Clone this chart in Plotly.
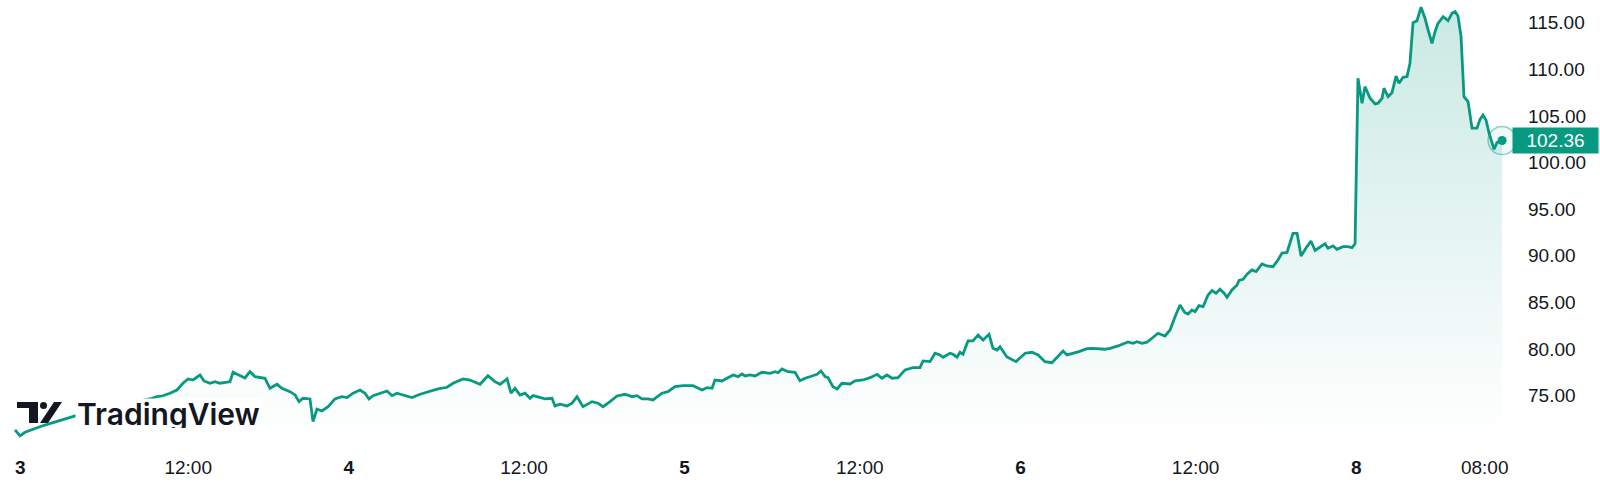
import plotly.graph_objects as go

# hours since session start of day 3 (23h trading sessions, weekend gap removed)
times = [0.14, 0.48, 0.82, 1.37, 1.99, 2.74, 3.36, 3.70, 4.11, 5.62, 6.99, 8.36, 9.52, 9.86, 10.27, 10.75, 11.23, 11.64, 11.99, 12.33,
         12.81, 13.08, 13.49, 13.84, 14.18, 14.66, 14.86, 15.07, 15.55, 15.89, 16.23, 16.58, 17.26, 17.60, 18.08, 18.42, 18.97, 19.32, 19.59, 19.86,
         20.34, 20.55, 20.82, 21.16, 21.58, 22.05, 22.53, 22.88, 23.29, 23.77, 24.11, 24.38, 24.66, 25.14, 25.62, 25.96, 26.30, 26.71, 27.33, 27.88,
         28.56, 29.11, 29.73, 30.14, 30.82, 31.30, 31.99, 32.53, 33.01, 33.36, 33.84, 34.11, 34.38, 34.73, 35.07, 35.41, 35.62, 36.10, 36.44, 36.92,
         37.12, 37.47, 37.95, 38.29, 38.63, 39.04, 39.66, 40.07, 40.41, 40.89, 41.37, 41.92, 42.40, 42.74, 43.08, 43.49, 43.84, 44.45, 44.86, 45.34,
         45.89, 46.58, 47.19, 47.53, 47.88, 48.08, 48.56, 48.90, 49.32, 49.66, 49.93, 50.14, 50.48, 50.82, 51.30, 51.85, 52.19, 52.40, 52.67, 53.08,
         53.56, 53.90, 54.25, 54.73, 55.07, 55.34, 55.62, 55.82, 56.16, 56.44, 56.78, 57.33, 57.67, 58.22, 58.70, 59.18, 59.52, 59.86, 60.21, 60.62,
         61.10, 61.64, 62.12, 62.33, 62.81, 63.15, 63.49, 63.70, 64.18, 64.38, 64.66, 64.86, 65.07, 65.41, 65.75, 66.10, 66.44, 66.85, 67.12, 67.40,
         67.60, 68.08, 68.70, 69.32, 69.79, 70.21, 70.68, 71.16, 71.58, 71.92, 72.19, 73.01, 73.56, 73.97, 74.79, 75.14, 75.68, 76.37, 76.71, 76.99,
         77.33, 77.67, 78.01, 78.42, 78.90, 79.25, 79.59, 79.93, 80.27, 80.48, 80.75, 80.96, 81.23, 81.51, 81.85, 82.12, 82.40, 82.67, 82.95, 83.15,
         83.49, 83.84, 83.97, 84.25, 84.52, 84.86, 85.14, 85.55, 85.89, 86.30, 86.64, 86.92, 87.26, 87.67, 87.95, 88.22, 88.56, 88.90, 89.18, 89.52,
         89.86, 90.07, 90.41, 90.68, 91.10, 91.44, 91.71, 91.92, 92.12, 92.40, 92.60, 92.95, 93.29, 93.49, 93.77, 93.90, 94.18, 94.45, 94.73, 94.93,
         95.21, 95.48, 95.68, 95.89, 96.16, 96.44, 96.71, 96.92, 97.19, 97.40, 97.60, 97.95, 98.29, 98.56, 98.77, 98.97, 99.18, 99.38, 99.66, 99.93,
         100.27, 100.48, 100.68, 100.89, 101.10, 101.44, 101.64, 101.99]

prices = [71.32, 70.68, 71.07, 71.43, 71.75, 72.10, 72.39, 72.50, 72.68, 73.47, 73.90, 74.32, 74.72, 74.89, 74.99, 75.26, 75.61, 76.33, 76.79, 76.68,
          77.22, 76.58, 76.33, 76.50, 76.33, 76.44, 76.50, 77.51, 77.14, 76.90, 77.57, 77.04, 76.86, 75.79, 76.22, 75.79, 75.43, 75.08, 74.36, 74.72,
          74.65, 72.21, 73.57, 73.36, 73.82, 74.65, 74.89, 74.79, 75.26, 75.61, 75.26, 74.65, 75.00, 75.26, 75.50, 75.00, 75.26, 75.07, 74.79, 75.15,
          75.50, 75.72, 75.90, 76.33, 76.79, 76.68, 76.22, 77.14, 76.50, 76.22, 76.79, 75.26, 75.79, 75.07, 75.26, 74.72, 75.00, 74.78, 74.65, 74.72,
          73.90, 74.08, 73.90, 74.19, 74.89, 73.82, 74.36, 74.19, 73.82, 74.36, 74.97, 75.15, 74.89, 75.00, 74.65, 74.65, 74.54, 75.26, 75.43, 75.96,
          76.07, 76.07, 75.61, 75.86, 75.79, 76.68, 76.58, 76.87, 77.22, 77.04, 77.33, 77.11, 77.22, 77.11, 77.51, 77.40, 77.57, 77.46, 77.86, 77.57,
          77.51, 76.61, 76.87, 77.11, 77.29, 77.65, 77.04, 76.93, 75.96, 75.72, 76.33, 76.25, 76.58, 76.68, 76.93, 77.29, 76.87, 77.22, 76.87, 76.93,
          77.76, 78.00, 78.00, 78.72, 78.65, 79.55, 79.37, 79.12, 79.55, 79.44, 79.12, 79.65, 79.44, 80.87, 80.87, 81.51, 80.97, 81.58, 80.08, 79.90,
          80.25, 79.15, 78.65, 79.55, 79.65, 79.37, 78.65, 78.54, 79.18, 79.79, 79.37, 79.72, 80.04, 80.08, 79.98, 80.08, 80.33, 80.76, 80.62, 80.79,
          80.62, 80.73, 81.16, 81.69, 81.40, 82.04, 83.47, 84.73, 83.90, 83.76, 84.19, 84.01, 84.65, 84.54, 85.80, 86.26, 85.98, 86.41, 85.98, 85.55,
          86.33, 86.87, 87.35, 87.48, 88.02, 88.48, 88.30, 89.12, 88.91, 88.83, 89.55, 90.30, 90.36, 92.41, 92.41, 89.98, 90.84, 91.59, 90.57, 90.89,
          91.29, 90.81, 91.07, 90.70, 90.98, 90.98, 90.87, 91.29, 109.04, 106.36, 108.14, 106.89, 106.28, 106.36, 106.89, 107.97, 107.06, 107.49, 109.28, 108.50,
          109.14, 109.21, 110.65, 115.00, 115.21, 116.65, 115.47, 114.22, 112.79, 114.03, 114.93, 115.64, 115.21, 116.00, 116.18, 115.72, 113.50, 107.06, 106.53, 103.68,
          103.68, 104.64, 105.10, 104.57, 103.14, 101.42, 102.13, 102.36]

tick_hours = [0.5, 12, 23, 35, 46, 58, 69, 81, 92, 100.8]
tick_labels = ["<b>3</b>", "12:00", "<b>4</b>", "12:00", "<b>5</b>", "12:00",
               "<b>6</b>", "12:00", "<b>8</b>", "08:00"]

assert len(times) == len(prices), (len(times), len(prices))

GREEN = "#089981"
TEXT = "#131722"
FONT = "Liberation Sans"
Y_RANGE = [70.46, 117.43]
X_RANGE = [-0.89, 102.19]

fig = go.Figure()
fig.add_trace(go.Scatter(
    x=times, y=prices, mode="lines",
    line=dict(color=GREEN, width=2.8),
    fill="tozeroy",
    fillgradient=dict(type="vertical",
                      colorscale=[[0, "rgba(8,153,129,0.0)"], [1, "rgba(8,153,129,0.22)"]],
                      start=Y_RANGE[0], stop=Y_RANGE[1]),
    hoverinfo="skip",
))
fig.add_trace(go.Scatter(
    x=[times[-1]], y=[prices[-1]], mode="markers",
    marker=dict(size=28, color="rgba(8,153,129,0.06)",
                line=dict(color="rgba(8,153,129,0.45)", width=1.5)),
    cliponaxis=False, hoverinfo="skip",
))
fig.add_trace(go.Scatter(
    x=[times[-1]], y=[prices[-1]], mode="markers",
    marker=dict(size=9, color=GREEN),
    cliponaxis=False, hoverinfo="skip",
))

# plot area is 1505 x 438 px
def px(x):
    return x / 1505.0

def py(y):
    return (438.0 - y) / 438.0

shapes = [
    dict(type="rect", xref="paper", yref="paper", x0=px(17), x1=px(38), y0=py(408), y1=py(402),
         fillcolor=TEXT, line=dict(width=0), layer="above"),
    dict(type="rect", xref="paper", yref="paper", x0=px(29), x1=px(38), y0=py(423), y1=py(402),
         fillcolor=TEXT, line=dict(width=0), layer="above"),
    dict(type="circle", xref="paper", yref="paper", x0=px(40), x1=px(47), y0=py(409), y1=py(402),
         fillcolor=TEXT, line=dict(width=0), layer="above"),
    dict(type="path", xref="paper", yref="paper",
         path=f"M {px(40)} {py(423)} L {px(48)} {py(423)} L {px(62)} {py(402)} L {px(54)} {py(402)} Z",
         fillcolor=TEXT, line=dict(width=0), layer="above"),
]

annotations = [
    dict(x=1, xref="paper", y=prices[-1], yref="y", xanchor="left", yanchor="middle", xshift=7,
         text=f"{prices[-1]:.2f}", showarrow=False, bgcolor=GREEN,
         font=dict(family=FONT, size=19, color="white"),
         width=81, height=21, borderpad=2, align="center"),
    dict(x=px(75), xref="paper", y=py(414), yref="paper", xanchor="left", yanchor="middle",
         text="TradingView", showarrow=False, bgcolor="white", height=28,
         font=dict(family="Inter", size=30, color=TEXT, weight=600)),
]

fig.update_layout(
    width=1600, height=493,
    margin=dict(l=0, r=95, t=0, b=55),
    paper_bgcolor="white", plot_bgcolor="white",
    showlegend=False,
    shapes=shapes, annotations=annotations,
    xaxis=dict(range=X_RANGE, tickvals=tick_hours, ticktext=tick_labels,
               showgrid=False, zeroline=False, showline=False, ticks="",
               ticklabelstandoff=16,
               tickfont=dict(family=FONT, size=19, color=TEXT)),
    yaxis=dict(range=Y_RANGE, side="right", tick0=0, dtick=5, tickformat=".2f",
               showgrid=False, zeroline=False, showline=False, ticks="",
               ticklabelstandoff=22,
               tickfont=dict(family=FONT, size=19, color=TEXT)),
)

fig.write_html("out.html",
               config={"displayModeBar": False},
               post_script="document.body.style.margin='0';document.body.style.overflow='hidden';")
